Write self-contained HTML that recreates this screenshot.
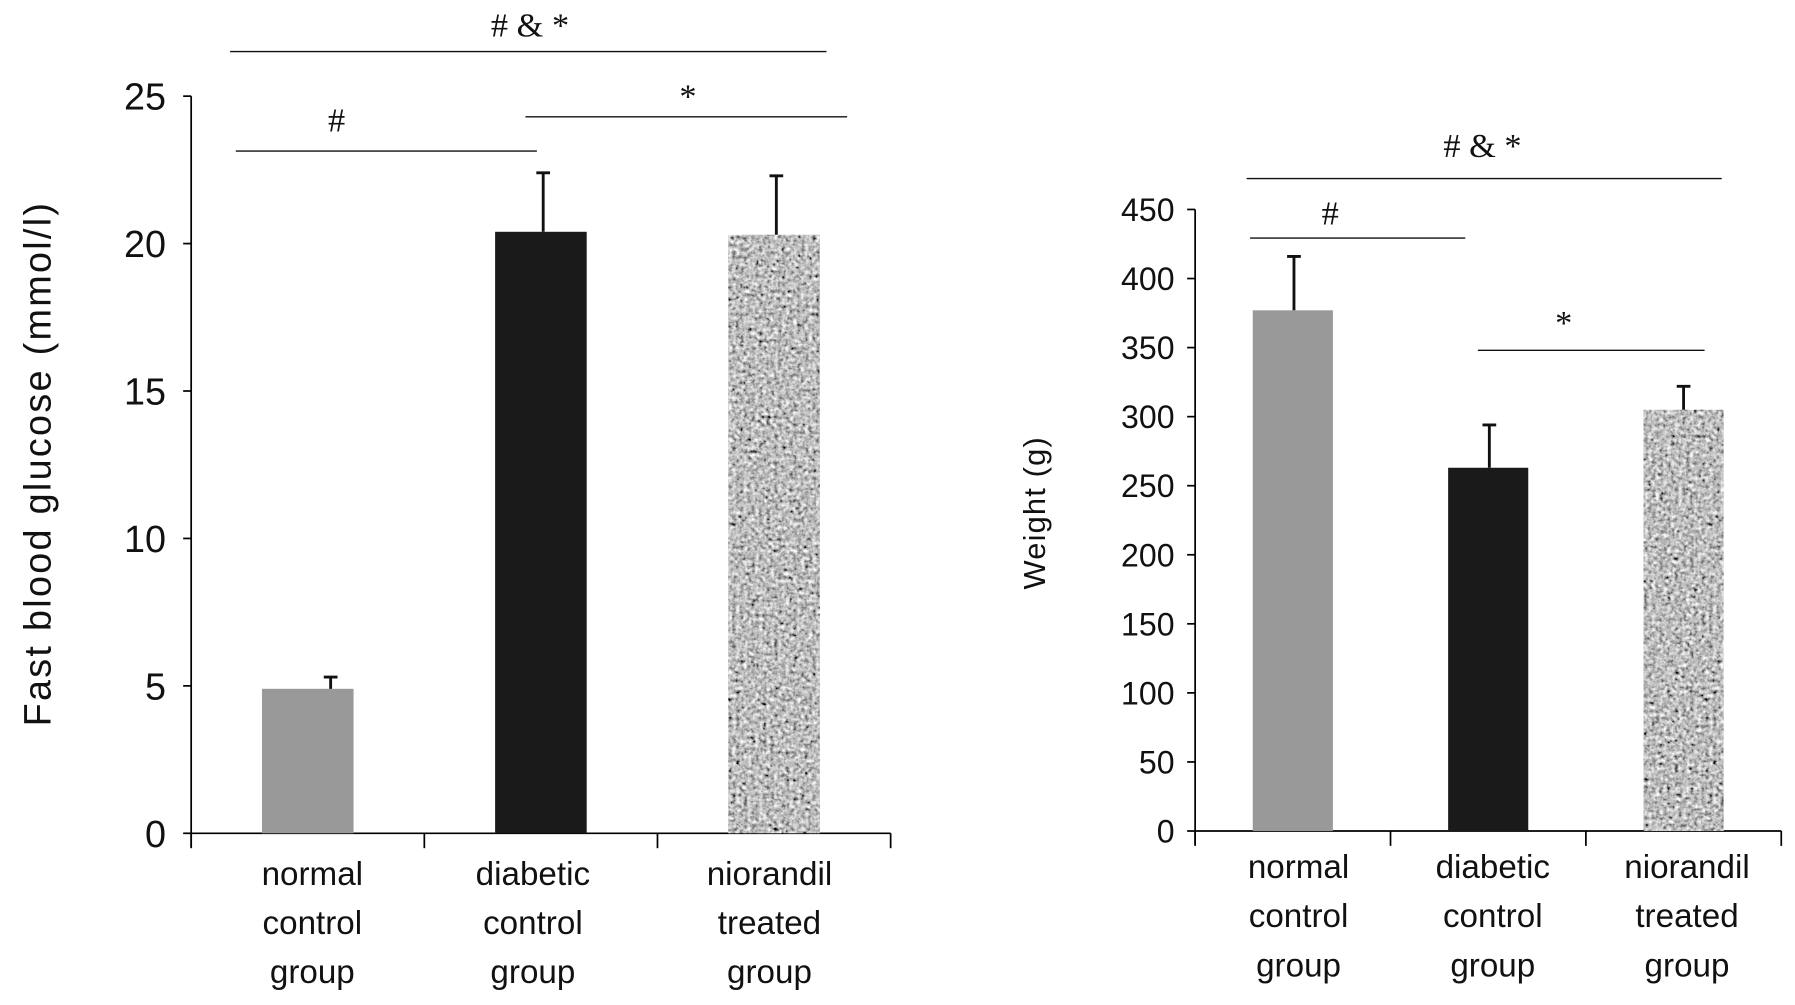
<!DOCTYPE html>
<html><head><meta charset="utf-8"><style>
html,body{margin:0;padding:0;background:#fff;}
svg{display:block;font-family:"Liberation Sans","DejaVu Sans",sans-serif;}
</style></head><body>
<svg id="c" width="1795" height="1005" viewBox="0 0 1568 878" preserveAspectRatio="none" xmlns="http://www.w3.org/2000/svg">
<defs>
<filter id="noise" x="0" y="0" width="100%" height="100%">
<feTurbulence type="fractalNoise" baseFrequency="0.3" numOctaves="2" seed="3" result="t"/>
<feColorMatrix in="t" type="matrix" values="0.33 0.33 0.33 0 0  0.33 0.33 0.33 0 0  0.33 0.33 0.33 0 0  0 0 0 0 1" result="g"/>
<feComponentTransfer in="g"><feFuncR type="linear" slope="2.4" intercept="-0.68"/><feFuncG type="linear" slope="2.4" intercept="-0.68"/><feFuncB type="linear" slope="2.4" intercept="-0.68"/></feComponentTransfer>
<feComposite in2="SourceGraphic" operator="in"/>
</filter>
</defs>
</svg>
<script>
const categories = [["normal","control","group"],["diabetic","control","group"],["niorandil","treated","group"]];
const glucoseValues = [4.9, 20.4, 20.3];
const glucoseErrors = [0.4, 2.0, 2.0];
const glucoseTicks = [0,5,10,15,20,25];
const weightValues = [377, 263, 305];
const weightErrors = [39, 31, 17];
const weightTicks = [0,50,100,150,200,250,300,350,400,450];
const glucoseSig = [{label:"# & *",a:0,b:2,lvl:2},{label:"#",a:0,b:1,lvl:0},{label:"*",a:1,b:2,lvl:1}];
const weightSig = [{label:"# & *",a:0,b:2,lvl:2},{label:"#",a:0,b:1,lvl:1},{label:"*",a:1,b:2,lvl:0}];

const svg=document.getElementById('c');
const NS='http://www.w3.org/2000/svg';
function mk(t,a,p){const e=document.createElementNS(NS,t);for(const k in a)e.setAttribute(k,a[k]);(p||svg).appendChild(e);return e;}
const fills=['#999999','#1a1a1a','#8a8a8a'];

function chart(cfg){
  const g=mk('g',{});
  
  
  const y=v=>cfg.y0-(v/cfg.max)*(cfg.y0-cfg.yTop);
  const bandW=(cfg.x1-cfg.x0)/3;
  const cx=i=>cfg.x0+bandW*(i+0.5);
  const ya=mk('line',{x1:cfg.x0,y1:cfg.yTop,x2:cfg.x0,y2:cfg.y0+12,stroke:'#000','stroke-width':1.5},g);
  
  
  const xa=mk('line',{x1:cfg.x0,y1:cfg.y0,x2:cfg.x1,y2:cfg.y0,stroke:'#000','stroke-width':1.5},g);
  
  
  for(let i=0;i<=3;i++){const t=mk('line',{x1:cfg.x0+bandW*i,y1:cfg.y0,x2:cfg.x0+bandW*i,y2:cfg.y0+13,stroke:'#000','stroke-width':1.5},g);
    
    }
  cfg.ticks.forEach(v=>{
    const t=mk('line',{x1:cfg.x0-7,y1:y(v),x2:cfg.x0,y2:y(v),stroke:'#000','stroke-width':1.5},g);
    
    
    const l=mk('text',{x:cfg.x0-cfg.lblOff,y:y(v)+cfg.fs*0.36,'text-anchor':'end','font-size':cfg.fs,fill:'#111'},g);
    l.textContent=v;
    
    
  });
  cfg.values.forEach((v,i)=>{
    const bx=cx(i)-cfg.bw/2;
    const r=mk('rect',{x:bx,y:y(v),width:cfg.bw,height:cfg.y0-y(v),fill:fills[i]},g);
    if(i===2) r.setAttribute('filter','url(#noise)');
    
    
    const ex=cx(i)+cfg.errShift[i];
    const e=mk('path',{d:`M${ex},${y(v)} V${y(v+cfg.errors[i])} M${ex-6},${y(v+cfg.errors[i])} H${ex+6}`,stroke:'#111','stroke-width':2.5,fill:'none'},g);
    
    
    categories[i].forEach((w,j)=>{
      const t=mk('text',{x:cx(i)+cfg.catShift[i],y:cfg.catY+j*cfg.catGap,'text-anchor':'middle','font-size':cfg.catFs,fill:'#111'},g);
      t.textContent=w;
      
      
    });
  });
  cfg.sig.forEach(s=>{
    const L=cfg.sigLines[s.lvl];
    const l=mk('line',{x1:L[0],y1:L[2],x2:L[1],y2:L[2],stroke:'#111','stroke-width':1.2},g);
    
    
    const t=mk('text',{x:L[3],y:L[2]-L[4],'text-anchor':'middle','font-size':30,'font-family':'Liberation Serif, serif',fill:'#111'},g);
    t.textContent=s.label;
    
    
  });
  const tt=mk('text',{transform:`translate(${cfg.titleX},${cfg.titleY}) rotate(-90)`,'text-anchor':'middle','font-size':cfg.titleFs,'letter-spacing':cfg.titleLs,fill:'#111'},g);
  tt.textContent=cfg.title;
  
  
}
chart({name:'glucose-chart',x0:167,x1:778,y0:728,yTop:84,max:25,ticks:glucoseTicks,values:glucoseValues,errors:glucoseErrors,
  bw:80,errShift:[20,2,2],fs:33,lblOff:22,catY:773,catGap:43,catFs:29,catShift:[4,-7,-4],sig:glucoseSig,
  sigLines:[[206,469,132,294,17],[459,740,102,601,8],[201,722,45,463,13]],
  title:'Fast blood  glucose (mmol/l)',titleX:44,titleY:405,titleFs:33,titleLs:2});
chart({name:'weight-chart',x0:1044,x1:1556,y0:726,yTop:183,max:450,ticks:weightTicks,values:weightValues,errors:weightErrors,
  bw:70,errShift:[1,1,0],fs:28,lblOff:18,catY:767,catGap:43,catFs:29,catShift:[5,4,3],sig:weightSig,
  sigLines:[[1291,1489,306,1366,14],[1092,1280,208,1162,12],[1089,1504,156,1295,19]],
  title:'Weight (g)',titleX:913,titleY:448,titleFs:27,titleLs:1});
</script>
</body></html>
